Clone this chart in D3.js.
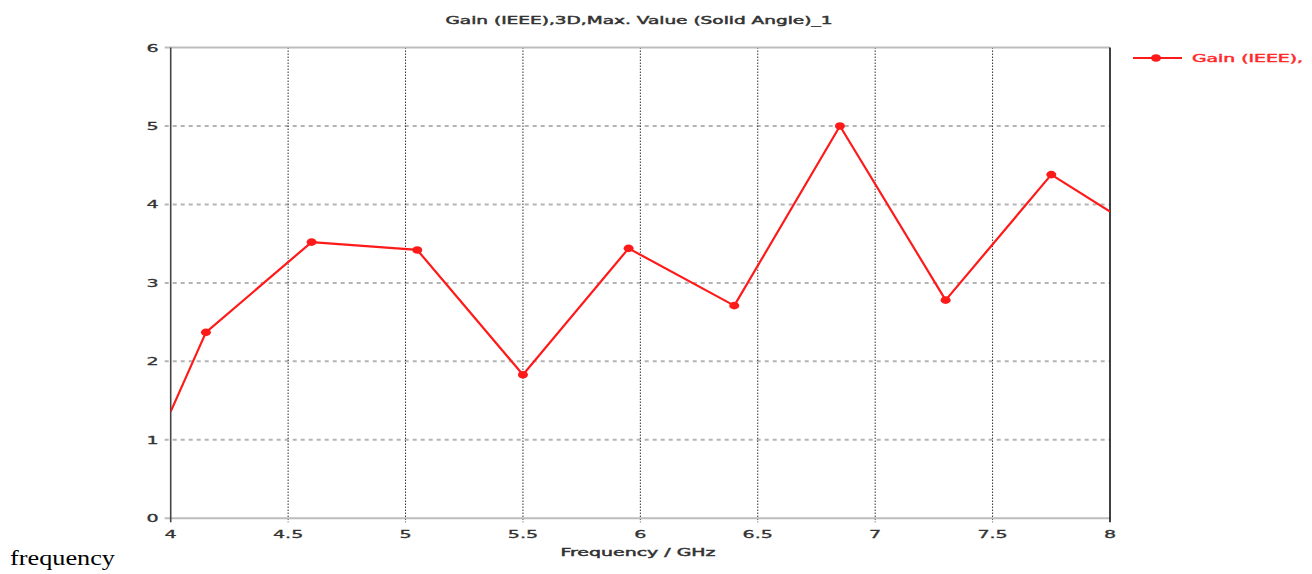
<!DOCTYPE html>
<html>
<head>
<meta charset="utf-8">
<script src="https://cdn.jsdelivr.net/npm/d3@7"></script>
<style>
  html, body { margin: 0; padding: 0; background: #fff; }
  svg { display: block; }
</style>
</head>
<body>
<svg id="chart" width="1312" height="574"></svg>
<script>
// Frequency sweep (GHz) and max 3D gain (IEEE, solid angle) at each step.
// The first and last entries sit on the plot edges where the trace is cut.
const frequency = [4.0, 4.15, 4.6, 5.05, 5.5, 5.95, 6.4, 6.85, 7.3, 7.75, 8.0];
const gain      = [1.36, 2.37, 3.52, 3.42, 1.83, 3.44, 2.71, 5.0, 2.78, 4.38, 3.91];
const sampled   = [false, true, true, true, true, true, true, true, true, true, false];

const xTicks = [4, 4.5, 5, 5.5, 6, 6.5, 7, 7.5, 8];
const yTicks = [0, 1, 2, 3, 4, 5, 6];

const titleText  = "Gain (IEEE),3D,Max. Value (Solid Angle)_1";
const xTitle     = "Frequency / GHz";
const legendText = "Gain (IEEE),";
const footText   = "frequency";

const svg = d3.select("#chart");
const font = "'DejaVu Sans', Verdana, sans-serif";
const stretch = 1.82;

const x = d3.scaleLinear().domain([4, 8]).range([170.7, 1110]);
const y = d3.scaleLinear().domain([0, 6]).range([518.3, 47.5]);

// Text helper: widened, medium-weight labels anchored at (px, py)
function label(g, txt, px, py, anchor, color, width) {
  const c = color || "#333";
  const t = g.append("text")
    .attr("transform", `translate(${px},${py})`)
    .attr("text-anchor", anchor)
    .attr("font-family", font)
    .attr("font-size", 10.5)
    .attr("fill", c)
    .attr("stroke", c)
    .attr("stroke-width", 0.45)
    .text(txt);
  if (width) {
    t.attr("textLength", width).attr("lengthAdjust", "spacingAndGlyphs");
  } else {
    t.attr("transform", `translate(${px},${py}) scale(${stretch},1)`)
     .attr("stroke-width", 0.3);
  }
  return t;
}

// Horizontal dashed grid lines
const grid = svg.append("g");
grid.selectAll("line.h")
  .data(yTicks.filter(d => d > 0 && d < 6))
  .join("line")
  .attr("x1", x(4) - 6).attr("x2", x(8))
  .attr("y1", d => y(d)).attr("y2", d => y(d))
  .attr("stroke", "#b4b4b4").attr("stroke-width", 2)
  .attr("stroke-dasharray", "4,4");

// Vertical dotted grid lines
grid.selectAll("line.v")
  .data(xTicks.filter(d => d > 4 && d < 8))
  .join("line")
  .attr("x1", d => x(d)).attr("x2", d => x(d))
  .attr("y1", y(6)).attr("y2", y(0) + 4)
  .attr("stroke", "#333").attr("stroke-width", 1)
  .attr("stroke-dasharray", "1.5,1.5");

// Frame: top and bottom gray rules, left dark axis, right black border
svg.append("line")
  .attr("x1", x(4) - 6).attr("x2", x(8))
  .attr("y1", y(6)).attr("y2", y(6))
  .attr("stroke", "#bdbdbd").attr("stroke-width", 2);
svg.append("line")
  .attr("x1", x(4) - 6).attr("x2", x(8))
  .attr("y1", y(0)).attr("y2", y(0))
  .attr("stroke", "#bdbdbd").attr("stroke-width", 2);
svg.append("line")
  .attr("x1", x(4)).attr("x2", x(4))
  .attr("y1", y(6)).attr("y2", y(0) + 4)
  .attr("stroke", "#444").attr("stroke-width", 1.6);
svg.append("line")
  .attr("x1", x(8)).attr("x2", x(8))
  .attr("y1", y(6)).attr("y2", y(0) + 4)
  .attr("stroke", "#111").attr("stroke-width", 1.6);

// Tick labels
const labels = svg.append("g");
yTicks.forEach(t => label(labels, d3.format("d")(t), x(4) - 12, y(t) + 4, "end"));
xTicks.forEach(t => label(labels, String(t), x(t), y(0) + 20, "middle"));

// Titles
label(svg, titleText, 639, 24, "middle", "#333", 387);
label(svg, xTitle, 638, 556, "middle", "#333", 155);

// Gain trace, clipped to the plot area
svg.append("clipPath").attr("id", "plot-clip")
  .append("rect")
  .attr("x", x(4)).attr("y", y(6))
  .attr("width", x(8) - x(4)).attr("height", y(0) - y(6));

const pts = frequency.map((f, i) => ({ f, g: gain[i], m: sampled[i] }));
const line = d3.line().x(d => x(d.f)).y(d => y(d.g));

const trace = svg.append("g").attr("clip-path", "url(#plot-clip)");
trace.append("path")
  .datum(pts)
  .attr("d", line)
  .attr("fill", "none")
  .attr("stroke", "#ff1a1a")
  .attr("stroke-width", 2.2)
  .attr("stroke-linejoin", "round");

svg.append("g").selectAll("ellipse")
  .data(pts.filter(d => d.m))
  .join("ellipse")
  .attr("cx", d => x(d.f)).attr("cy", d => y(d.g))
  .attr("rx", 5).attr("ry", 3.8)
  .attr("fill", "#ff1a1a");

// Legend
const leg = svg.append("g");
leg.append("line")
  .attr("x1", 1133).attr("x2", 1182).attr("y1", 58).attr("y2", 58)
  .attr("stroke", "#ff1a1a").attr("stroke-width", 2);
leg.append("ellipse")
  .attr("cx", 1156).attr("cy", 58).attr("rx", 5).attr("ry", 3.8)
  .attr("fill", "#ff1a1a");
label(leg, legendText, 1192, 62, "start", "#ff2a2a", 111);

// Caption under the chart
svg.append("text")
  .attr("x", 10).attr("y", 565)
  .attr("font-family", "'Liberation Serif', 'Times New Roman', serif")
  .attr("font-size", 21)
  .attr("fill", "#000")
  .attr("textLength", 105)
  .attr("lengthAdjust", "spacingAndGlyphs")
  .text(footText);
</script>
</body>
</html>
